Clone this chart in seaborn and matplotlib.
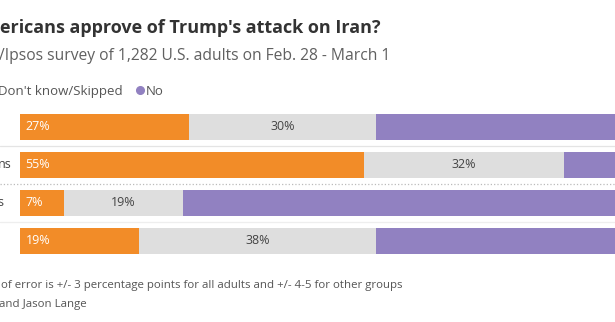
import matplotlib
matplotlib.use("Agg")
import matplotlib.pyplot as plt
import seaborn as sns
import pandas as pd
from matplotlib.lines import Line2D
import matplotlib.transforms as mtransforms

# ---- data ----
groups = ["All adults", "Republicans", "Democrats", "Other"]
yes_vals = [27, 55, 7, 19]
dk_vals = [30, 32, 19, 38]
no_vals = [43, 13, 74, 43]
row_labels_visible = ["", "ns", "s", ""]

title_txt = "ericans approve of Trump's attack on Iran?"
subtitle_txt = "/Ipsos survey of 1,282 U.S. adults on Feb. 28 - March 1"
legend_dk = "Don't know/Skipped"
legend_no = "No"
note1 = "of error is +/- 3 percentage points for all adults and +/- 4-5 for other groups"
note2 = "and Jason Lange"

ORANGE = "#F28C28"
GRAY = "#DEDEDE"
PURPLE = "#9181C1"

W, H = 615, 322
sns.set_theme(style="white")
plt.rcParams["font.family"] = ["Open Sans", "DejaVu Sans"]

fig = plt.figure(figsize=(W / 100, H / 100), dpi=100)
fig.patch.set_facecolor("white")

# axes: bar start x=20 px, 100% at x=645 px; rows centred 127..241 px, pitch 38
ax_left, ax_right = 20, 645
ax_top, ax_bot = 108, 260
ax = fig.add_axes([ax_left / W, 1 - ax_bot / H, (ax_right - ax_left) / W, (ax_bot - ax_top) / H])

df = pd.DataFrame({"group": groups, "yes": yes_vals, "dk": dk_vals, "no": no_vals})
df["c1"] = df["yes"]
df["c2"] = df["yes"] + df["dk"]
df["c3"] = df["yes"] + df["dk"] + df["no"]

bh = 26 / 38
for col, colr in [("c3", PURPLE), ("c2", GRAY), ("c1", ORANGE)]:
    sns.barplot(data=df, x=col, y="group", order=groups, color=colr, orient="h",
                width=bh, ax=ax, saturation=1, linewidth=0, errorbar=None)

ax.set_xlim(0, 100)
ax.set_ylim(3.5, -0.5)
ax.set_xlabel("")
ax.set_ylabel("")
ax.set_xticks([])
ax.set_yticks([])
for s in ax.spines.values():
    s.set_visible(False)

# value labels
LFS = 9
for i, r in df.iterrows():
    ax.text(0.9, i, f"{r['yes']}%", color="white", fontsize=LFS, va="center", ha="left")
    ax.text(r["yes"] + r["dk"] / 2, i, f"{r['dk']}%", color="#444444", fontsize=LFS,
            va="center", ha="center")
    ax.text(r["c3"] - 0.8, i, f"{r['no']}%", color="white", fontsize=LFS,
            va="center", ha="right")

# separators (span full figure width)
trans = mtransforms.blended_transform_factory(fig.transFigure, ax.transData)
seps = [(0.5, "-", "#E4E4E4"), (1.5, ":", "#BBBBBB"), (2.5, "-", "#EEEEEE")]
for yv, ls, c in seps:
    fig.add_artist(Line2D([0, 1], [yv, yv], transform=trans, color=c, lw=0.9, ls=ls))

# row labels (visible tails)
ends = [None, 12, 3.5, None]
for i, lab in enumerate(row_labels_visible):
    if lab:
        ax.text(ends[i] / W, i, lab, transform=trans, ha="right", va="center",
                fontsize=9, color="#444444")

renderer = fig.canvas.get_renderer()


def place(txt, x0, x1, ybase, fs, ha="left", fit=True, **kw):
    xa = x0 if ha == "left" else x1
    t = fig.text(xa / W, 1 - ybase / H, txt, fontsize=fs, va="baseline", ha=ha, **kw)
    if fit:
        bb = t.get_window_extent(renderer)
        t.set_fontsize(fs * (x1 - x0) / bb.width)
    return t


place(title_txt, 0, 383, 33, 14, fontweight="bold", color="#333333")
place(subtitle_txt, -1, 389, 60, 12, color="#606060")
tdk = place(legend_dk, -2, 123, 95, 10.5, ha="right", color="#555555")
place(legend_no, 146, 167, 95, tdk.get_fontsize(), fit=False, color="#555555")
fig.add_artist(Line2D([140 / W], [1 - 90.5 / H], marker="o", markersize=5.5,
                      color=PURPLE, linestyle="none", transform=fig.transFigure))
place(note1, 1, 403, 288, 8, color="#555555")
place(note2, -1, 87, 307, 8, color="#555555")

fig.savefig("out.png", dpi=100, facecolor="white")
